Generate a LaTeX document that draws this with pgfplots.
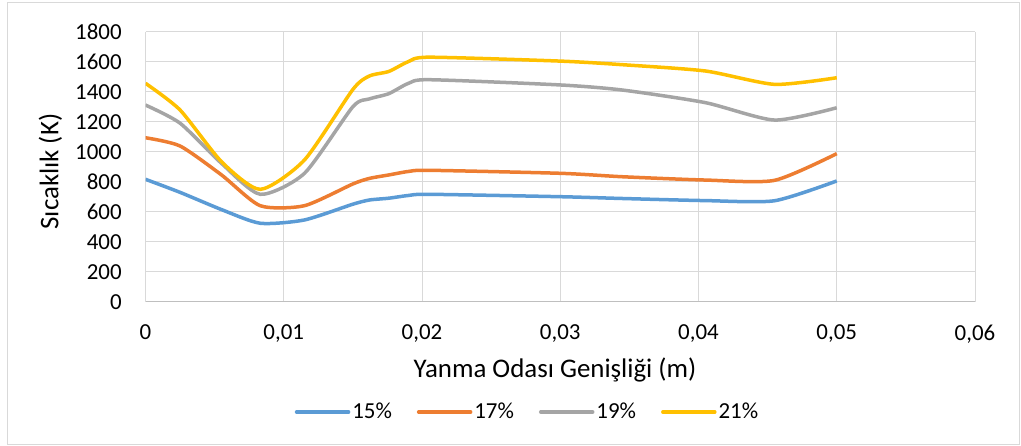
\documentclass[border=0pt]{standalone}
\usepackage{pgfplots}
\pgfplotsset{compat=1.18}
\usepackage{pgfplotstable}
\usepackage{fontspec}
\setmainfont{Carlito}
\definecolor{cA}{HTML}{5B9BD5}
\definecolor{cB}{HTML}{ED7D31}
\definecolor{cC}{HTML}{A5A5A5}
\definecolor{cD}{HTML}{FFC000}
\definecolor{gridc}{HTML}{D9D9D9}
\definecolor{axc}{HTML}{BFBFBF}
\pgfplotstableread{
x       b    o    g    y
0       816  1093 1311 1456
0.0025  729  1038 1190 1278
0.0055  614  845  922  933
0.0083  523  640  716  749
0.0115  545  640  856  945
0.0150  650  785  1300 1415
0.0162  678  822  1352 1505
0.0176  690  845  1387 1535
0.0190  708  868  1455 1600
0.0205  716  876  1480 1630
0.030   700  856  1445 1604
0.0345  688  833  1411 1580
0.0405  674  811  1327 1538
0.0455  673  809  1211 1449
0.050   805  987  1293 1493
}\data
\begin{document}
\fontsize{23}{27}\selectfont
\begin{tikzpicture}
\useasboundingbox (0,0) rectangle (1021bp,446bp);
\draw[color=gridc, line width=1bp] (7bp,1.5bp) rectangle (1019.5bp,443bp);
\begin{axis}[
  at={(145.5bp,144.3bp)}, anchor=south west,
  scale only axis, width=829.5bp, height=270bp,
  xmin=0, xmax=0.06, ymin=0, ymax=1800,
  scaled x ticks=false, scaled y ticks=false,
  xtick={0,0.01,0.02,0.03,0.04,0.05,0.06},
  xticklabels={0,{0,01},{0,02},{0,03},{0,04},{0,05},{0,06}},
  ytick={0,200,400,600,800,1000,1200,1400,1600,1800},
  yticklabels={0,200,400,600,800,1000,1200,1400,1600,1800},
  grid=major, major grid style={gridc, line width=1bp},
  axis x line*=bottom, axis y line*=left,
  x axis line style={axc, line width=1.2bp},
  y axis line style={gridc, line width=1bp},
  major tick length=0pt,
  tick label style={font=\fontsize{23}{27}\selectfont},
  xticklabel style={yshift=-15bp},
  yticklabel style={xshift=-16bp},
  xlabel={Yanma Odası Genişliği (m)},
  ylabel={Sıcaklık (K)},
  every axis x label/.style={at={(axis description cs:0.4937,-0.253)},anchor=center,font=\fontsize{27}{32}\selectfont},
  every axis y label/.style={at={(axis description cs:-0.1145,0.482)},rotate=90,anchor=center,font=\fontsize{27}{32}\selectfont},
  legend columns=4,
  legend style={at={(axis description cs:0.4605,-0.4085)}, anchor=center, draw=none,
    font=\fontsize{23}{27}\selectfont,
    /tikz/every even column/.append style={column sep=23bp}},
  legend image code/.code={\draw[#1, line width=3.5bp, line cap=round] (0bp,0bp) -- (52bp,0bp);},
  every axis plot/.append style={line width=3.5bp, smooth, tension=0.4, no marks},
]
\addplot[cA] table[x=x,y=b]{\data};
\addplot[cB] table[x=x,y=o]{\data};
\addplot[cC] table[x=x,y=g]{\data};
\addplot[cD] table[x=x,y=y]{\data};
\legend{15\%,17\%,19\%,21\%}
\end{axis}
\end{tikzpicture}
\end{document}
